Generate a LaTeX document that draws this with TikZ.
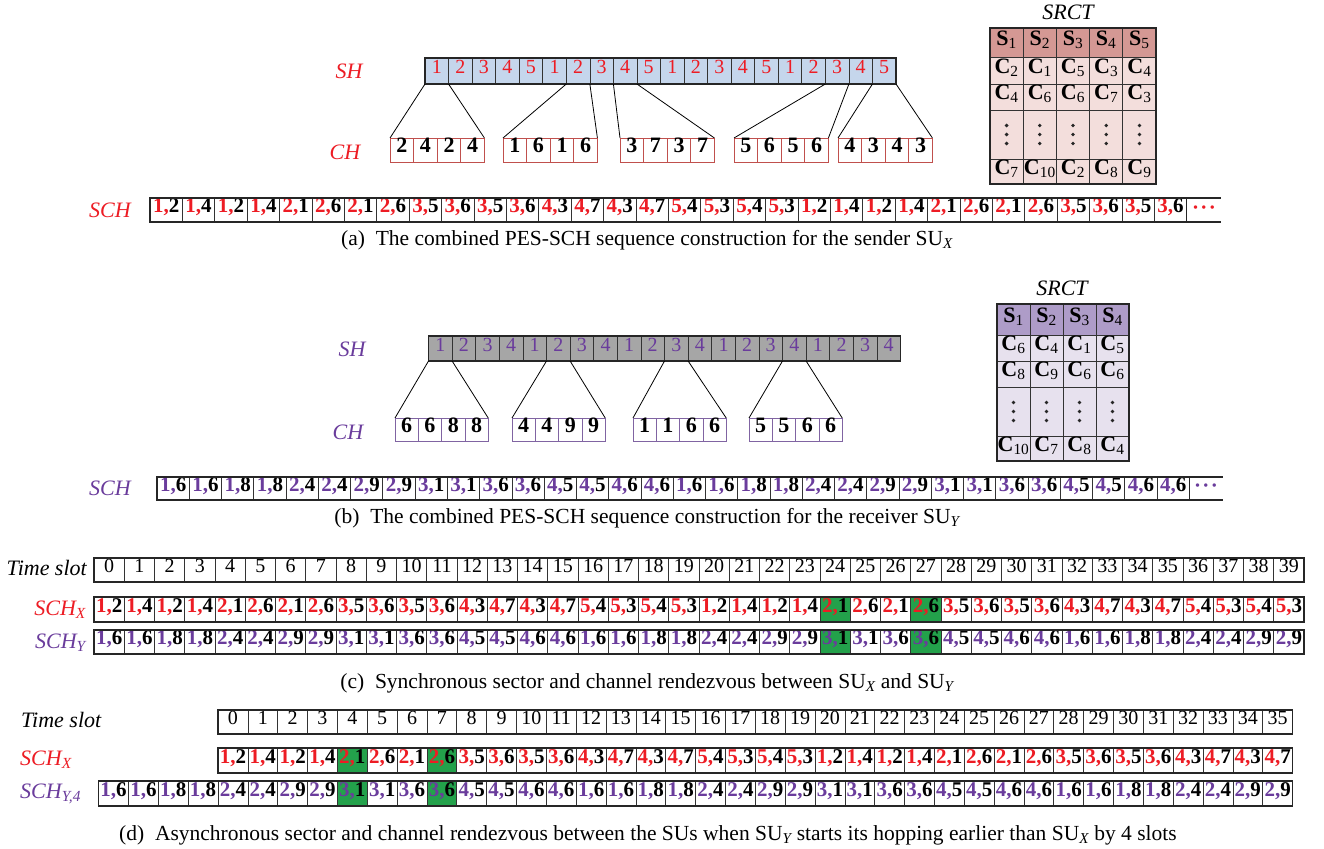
\documentclass[tikz,border=0pt]{standalone}
\usepackage{fontspec}
\setmainfont{Liberation Serif}
\definecolor{myred}{HTML}{ED1C24}
\definecolor{mypurple}{HTML}{6A3C9C}
\definecolor{mygreen}{HTML}{23A14B}
\definecolor{shblue}{HTML}{C5D6EC}
\definecolor{shgray}{HTML}{A6A6A6}
\definecolor{srhead}{HTML}{D49894}
\definecolor{srbody}{HTML}{F3DEDC}
\definecolor{sphead}{HTML}{AE9CC8}
\definecolor{spbody}{HTML}{E7E1EE}
\definecolor{chred}{HTML}{C0504D}
\definecolor{chpurple}{HTML}{8064A2}
\newcommand\fsz[1]{\fontsize{#1}{#1}\selectfont}
\def\sqXa{1/2,1/4,1/2,1/4}
\def\sqXb{2/1,2/6,2/1,2/6}
\def\sqXc{3/5,3/6,3/5,3/6}
\def\sqXd{4/3,4/7,4/3,4/7}
\def\sqXe{5/4,5/3,5/4,5/3}
\def\sqYa{1/6,1/6,1/8,1/8}
\def\sqYb{2/4,2/4,2/9,2/9}
\def\sqYc{3/1,3/1,3/6,3/6}
\def\sqYd{4/5,4/5,4/6,4/6}
\edef\SCHa{\sqXa,\sqXb,\sqXc,\sqXd,\sqXe,\sqXa,\sqXb,\sqXc}
\edef\SCHb{\sqYa,\sqYb,\sqYc,\sqYd,\sqYa,\sqYb,\sqYc,\sqYd}
\edef\SCHcx{\sqXa,\sqXb,\sqXc,\sqXd,\sqXe,\sqXa,\sqXb,\sqXc,\sqXd,\sqXe}
\edef\SCHcy{\sqYa,\sqYb,\sqYc,\sqYd,\sqYa,\sqYb,\sqYc,\sqYd,\sqYa,\sqYb}
\edef\SCHdx{\sqXa,\sqXb,\sqXc,\sqXd,\sqXe,\sqXa,\sqXb,\sqXc,\sqXd}
\newcommand\tdots{\textbf{\textperiodcentered\kern1.5pt\textperiodcentered\kern1.5pt\textperiodcentered}}
% #1 name, #2 x0, #3 y0, #4 cell width, #5 list, #6 colour, #7 #8 green indices, #9 height
\newcommand\schrow[9]{%
  \foreach \p/\q [count=\i from 0] in #5 {%
    \def\fc{white}%
    \ifnum\i=#7\relax\def\fc{mygreen}\fi
    \ifnum\i=#8\relax\def\fc{mygreen}\fi
    \node[schcell, fill=\fc, minimum width=#4pt, minimum height=#9pt] (#1\i) at ({#2+#4*\i},#3) {\textcolor{#6}{\p,}\q};
  }%
}
% #1 name, #2 x, #3 y, #4 w, #5 h, #6 values, #7 colour
\newcommand\chgroup[7]{%
  \foreach \v [count=\i from 0] in {#6}
    \node[chcell, draw=#7, minimum width=#4pt, minimum height=#5pt] (#1-\i) at ({#2+#4*\i},#3) {\v};
}
\begin{document}
\begin{tikzpicture}[x=1pt,y=-1pt,
  box/.style={draw=black!80, line width=0.7pt, inner sep=0pt, outer sep=0pt, anchor=north west,
              text height=1.45ex, text depth=0.25ex},
  schcell/.style={box, font=\fsz{21}\bfseries},
  tscell/.style={box, font=\fsz{20}, minimum height=24pt},
  shcell/.style={box, font=\fsz{20}},
  chcell/.style={box, line width=0.8pt, font=\fsz{22}\bfseries},
  tcell/.style={box, line width=0.8pt, font=\fsz{22}},
  dcell/.style={draw=black!80, line width=0.8pt, inner sep=0pt, outer sep=0pt, anchor=north west},
  vdot/.style={fill=black!85},
  frame/.style={line width=1.2pt, draw=black!85},
  link/.style={line width=0.8pt, draw=black},
  lab/.style={font=\fsz{22}\itshape, inner sep=0pt},
  capt/.style={font=\fsz{21.5}, inner sep=0pt}]
\useasboundingbox (0,0) rectangle (1324,848);
\fill[white] (0,0) rectangle (1324,848);

% ================= (a) =================
\node[lab, text=myred] (lSHa) at (349,71) {SH};
\node[lab, text=myred] (lCHa) at (345,152) {CH};
\node[lab, text=myred] (lSCHa) at (110,210) {SCH};
\foreach \v [count=\i from 0] in {1,2,3,4,5,1,2,3,4,5,1,2,3,4,5,1,2,3,4,5}
  \node[shcell, fill=shblue, text=myred, minimum width=23.55pt, minimum height=26pt] (sa\i) at ({425+23.55*\i},58) {\v};
\draw[frame] (sa0.north west) rectangle (sa19.south east);
\chgroup{ca1}{390}{138}{23.6}{24}{2,4,2,4}{chred}
\chgroup{ca2}{503}{138}{23.6}{24}{1,6,1,6}{chred}
\chgroup{ca3}{620}{138}{23.6}{24}{3,7,3,7}{chred}
\chgroup{ca4}{734}{138}{23.6}{24}{5,6,5,6}{chred}
\chgroup{ca5}{838}{138}{23.6}{24}{4,3,4,3}{chred}
\draw[link] (sa0.south west) -- (ca1-0.north west);
\draw[link] (sa0.south east) -- (ca1-3.north east);
\draw[link] (sa6.south west) -- (ca2-0.north west);
\draw[link] (sa6.south east) -- (ca2-3.north east);
\draw[link] (sa8.south west) -- (ca3-0.north west);
\draw[link] (sa8.south east) -- (ca3-3.north east);
\draw[link] (sa17.south west) -- (ca4-0.north west);
\draw[link] (sa17.south east) -- (ca4-3.north east);
\draw[link] (sa19.south west) -- (ca5-0.north west);
\draw[link] (sa19.south east) -- (ca5-3.north east);
\schrow{a}{150}{198}{32.4}{\SCHa}{myred}{-1}{-1}{24}
\draw[frame] (a0.north west) rectangle (a31.south east);
\draw[frame] (a31.north east) -- ++(34,0);
\draw[frame] (a31.south east) -- ++(34,0);
\node[font=\fsz{21}, text=myred] (adots) at (1204,210) {\tdots};
% SRCT (a)
\node[lab] (srta) at (1068,12) {SRCT};
\foreach \s [count=\j from 0] in {1,...,5}
  \node[tcell, fill=srhead, minimum width=33.2pt, minimum height=29pt] (ah\j) at ({990+33.2*\j},28) {\textbf{S}\textsubscript{\s}};
\foreach \c [count=\j from 0] in {2,1,5,3,4}
  \node[tcell, fill=srbody, minimum width=33.2pt, minimum height=27pt] (ar\j) at ({990+33.2*\j},57) {\textbf{C}\textsubscript{\c}};
\foreach \c [count=\j from 0] in {4,6,6,7,3}
  \node[tcell, fill=srbody, minimum width=33.2pt, minimum height=26pt] (as\j) at ({990+33.2*\j},84) {\textbf{C}\textsubscript{\c}};
\foreach \j in {0,...,4} {
  \node[dcell, fill=srbody, minimum width=33.2pt, minimum height=49pt] (ad\j) at ({990+33.2*\j},110) {};
  \fill[vdot] (ad\j.center) circle (1.9) ++(0,-9) circle (1.9) ++(0,18) circle (1.9);
}
\foreach \c [count=\j from 0] in {7,10,2,8,9}
  \node[tcell, fill=srbody, minimum width=33.2pt, minimum height=25pt] (al\j) at ({990+33.2*\j},159) {\textbf{C}\textsubscript{\c}};
\draw[frame] (ah0.north west) rectangle (al4.south east);
\node[capt] (capa) at (647,240) {(a)\enspace The combined PES-SCH sequence construction for the sender SU\textsubscript{\itshape X}};

% ================= (b) =================
\node[lab, text=mypurple] (lSHb) at (352,349) {SH};
\node[lab, text=mypurple] (lCHb) at (348,432) {CH};
\node[lab, text=mypurple] (lSCHb) at (110,488) {SCH};
\foreach \v [count=\i from 0] in {1,2,3,4,1,2,3,4,1,2,3,4,1,2,3,4,1,2,3,4}
  \node[shcell, fill=shgray, text=mypurple, minimum width=23.6pt, minimum height=25pt] (sb\i) at ({428.5+23.6*\i},336) {\v};
\draw[frame] (sb0.north west) rectangle (sb19.south east);
\chgroup{cb1}{395}{418}{23.3}{23}{6,6,8,8}{chpurple}
\chgroup{cb2}{512}{418}{23.3}{23}{4,4,9,9}{chpurple}
\chgroup{cb3}{633}{418}{23.3}{23}{1,1,6,6}{chpurple}
\chgroup{cb4}{749}{418}{23.3}{23}{5,5,6,6}{chpurple}
\draw[link] (sb0.south west) -- (cb1-0.north west);
\draw[link] (sb0.south east) -- (cb1-3.north east);
\draw[link] (sb5.south west) -- (cb2-0.north west);
\draw[link] (sb5.south east) -- (cb2-3.north east);
\draw[link] (sb10.south west) -- (cb3-0.north west);
\draw[link] (sb10.south east) -- (cb3-3.north east);
\draw[link] (sb15.south west) -- (cb4-0.north west);
\draw[link] (sb15.south east) -- (cb4-3.north east);
\schrow{b}{157}{477}{32.26}{\SCHb}{mypurple}{-1}{-1}{23}
\draw[frame] (b0.north west) rectangle (b31.south east);
\draw[frame] (b31.north east) -- ++(34,0);
\draw[frame] (b31.south east) -- ++(34,0);
\node[font=\fsz{21}, text=mypurple] (bdots) at (1206,488) {\tdots};
% SRCT (b)
\node[lab] (srtb) at (1062,288) {SRCT};
\foreach \s [count=\j from 0] in {1,...,4}
  \node[tcell, fill=sphead, minimum width=33pt, minimum height=31pt] (bh\j) at ({997+33*\j},304) {\textbf{S}\textsubscript{\s}};
\foreach \c [count=\j from 0] in {6,4,1,5}
  \node[tcell, fill=spbody, minimum width=33pt, minimum height=26pt] (br\j) at ({997+33*\j},335) {\textbf{C}\textsubscript{\c}};
\foreach \c [count=\j from 0] in {8,9,6,6}
  \node[tcell, fill=spbody, minimum width=33pt, minimum height=26pt] (bs\j) at ({997+33*\j},361) {\textbf{C}\textsubscript{\c}};
\foreach \j in {0,...,3} {
  \node[dcell, fill=spbody, minimum width=33pt, minimum height=49pt] (bd\j) at ({997+33*\j},387) {};
  \fill[vdot] (bd\j.center) circle (1.9) ++(0,-9) circle (1.9) ++(0,18) circle (1.9);
}
\foreach \c [count=\j from 0] in {10,7,8,4}
  \node[tcell, fill=spbody, minimum width=33pt, minimum height=25pt] (bl\j) at ({997+33*\j},436) {\textbf{C}\textsubscript{\c}};
\draw[frame] (bh0.north west) rectangle (bl3.south east);
\node[capt] (capb) at (647,518) {(b)\enspace The combined PES-SCH sequence construction for the receiver SU\textsubscript{\itshape Y}};

% ================= (c) =================
\node[lab, anchor=east] (lTSc) at (87,568) {Time slot};
\node[lab, anchor=east, text=myred] (lXc) at (86,610) {SCH\textsubscript{X}};
\node[lab, anchor=east, text=mypurple] (lYc) at (86,643) {SCH\textsubscript{Y}};
\foreach \i in {0,...,39}
  \node[tscell, minimum width=30.25pt] (tc\i) at ({94+30.25*\i},558) {\i};
\draw[frame] (tc0.north west) rectangle (tc39.south east);
\schrow{cx}{94}{597}{30.25}{\SCHcx}{myred}{24}{27}{25}
\draw[frame] (cx0.north west) rectangle (cx39.south east);
\schrow{cy}{94}{630}{30.25}{\SCHcy}{mypurple}{24}{27}{24}
\draw[frame] (cy0.north west) rectangle (cy39.south east);
\node[capt] (capc) at (647,683) {(c)\enspace Synchronous sector and channel rendezvous between SU\textsubscript{\itshape X} and SU\textsubscript{\itshape Y}};

% ================= (d) =================
\node[lab, anchor=west] (lTSd) at (21,720) {Time slot};
\node[lab, anchor=west, text=myred] (lXd) at (20,760) {SCH\textsubscript{X}};
\node[lab, anchor=west, text=mypurple] (lYd) at (20,794) {SCH\textsubscript{Y,4}};
\foreach \i in {0,...,35}
  \node[tscell, minimum width=29.85pt] (td\i) at ({218+29.85*\i},710) {\i};
\draw[frame] (td0.north west) rectangle (td35.south east);
\schrow{dx}{218}{748}{29.85}{\SCHdx}{myred}{4}{7}{25}
\draw[frame] (dx0.north west) rectangle (dx35.south east);
\schrow{dy}{98.6}{781}{29.85}{\SCHcy}{mypurple}{8}{11}{25}
\draw[frame] (dy0.north west) rectangle (dy39.south east);
\node[capt] (capd) at (648,835) {(d)\enspace Asynchronous sector and channel rendezvous between the SUs when SU\textsubscript{\itshape Y} starts its hopping earlier than SU\textsubscript{\itshape X} by 4 slots};
\end{tikzpicture}
\end{document}
